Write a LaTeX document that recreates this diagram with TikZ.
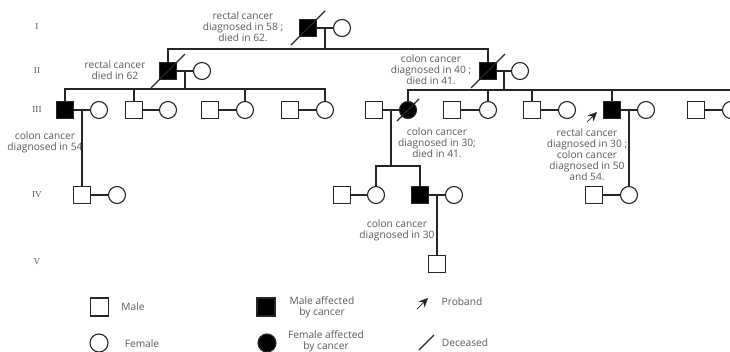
\documentclass[tikz,border=0pt]{standalone}
\usepackage{fontspec}
\setmainfont{Open Sans}
\newfontfamily\genfont{Liberation Serif}
\usetikzlibrary{arrows.meta}

% Fallecido: barra diagonal
\newcommand{\muerto}[2]{\draw (#1) ++(-#2,#2) -- ++(2*#2,-2*#2);}

\begin{document}
\begin{tikzpicture}[x=0.05cm, y=-0.05cm, line width=1.6pt, color=black!85,
    male/.style={draw, rectangle, minimum size=0.85cm, inner sep=0pt, outer sep=0pt},
    female/.style={draw, circle, minimum size=0.85cm, inner sep=0pt, outer sep=0pt},
    affected/.style={fill=black},
    descent/.style={line width=2.6pt},
    note/.style={align=center, text=black!65, font=\fontsize{14.5}{15.6}\selectfont},
    gen/.style={text=black!65, font=\genfont\fontsize{13}{14}\selectfont}]

        % Marco
        \useasboundingbox (0,0) rectangle (730,351);
        \clip (0,0) rectangle (730,351);

        % Generaciones
        \node[gen] (gI) at (37,27) {I};
        \node[gen] (gII) at (37,71) {II};
        \node[gen] (gIII) at (37,110) {III};
        \node[gen] (gIV) at (37,195) {IV};
        \node[gen] (gV) at (37,262) {V};

        % Generacion I
        \node[male, affected] (I1) at (308,28) {};
        \node[female] (I2) at (342,28) {};
        \draw (I1) -- coordinate (mI) (I2);
        \muerto{I1}{17}
        \node[note] (nI1) at (243,27) {rectal cancer\\diagnosed in 58 ;\\died in 62.};

        % Generacion II
        \node[male, affected] (II1) at (168,71) {};
        \node[female] (II2) at (202,71) {};
        \node[male, affected] (II3) at (488,71) {};
        \node[female] (II4) at (520,71) {};
        \coordinate (sI) at (325,49);
        \draw[descent] (mI) -- (sI);
        \draw (II1.north) |- (sI) -| (II3.north);
        \draw (II1) -- coordinate (mIIa) (II2);
        \draw (II3) -- coordinate (mIIb) (II4);
        \muerto{II1}{17}
        \muerto{II3}{17}
        \node[note] (nII1) at (115,70) {rectal cancer\\died in 62};
        \node[note] (nII3) at (431,70) {colon cancer\\diagnosed in 40 ;\\died in 41.};

        % Generacion III
        \node[male, affected] (III1) at (65,110) {};
        \node[female] (III2) at (99,110) {};
        \node[male] (III3) at (134,110) {};
        \node[female] (III4) at (168,110) {};
        \node[male] (III5) at (210,110) {};
        \node[female] (III6) at (245,110) {};
        \node[male] (III7) at (290,110) {};
        \node[female] (III8) at (325,110) {};
        \node[male] (III9) at (374,110) {};
        \node[female, affected] (III10) at (408,110) {};
        \node[male] (III11) at (452,110) {};
        \node[female] (III12) at (488,110) {};
        \node[male] (III13) at (532,110) {};
        \node[female] (III14) at (567,110) {};
        \node[male, affected] (III15) at (612,110) {};
        \node[female] (III16) at (646,110) {};
        \node[male] (III17) at (696,110) {};
        \node[female] (III18) at (731,110) {};

        \coordinate (sIIa) at (185,89);
        \draw[descent] (mIIa) -- (sIIa);
        \draw (III1.north) |- (sIIa) -| (III8.north);
        \draw (III3.north) -- (III3.north |- sIIa);
        \draw (III6.north) -- (III6.north |- sIIa);

        \coordinate (sIIb) at (504,90);
        \draw[descent] (mIIb) -- (sIIb);
        \draw (III10.north) |- (sIIb) -| (III18.north);
        \draw (III12.north) -- (III12.north |- sIIb);
        \draw (III13.north) -- (III13.north |- sIIb);
        \draw (III15.north) -- (III15.north |- sIIb);

        \draw (III1) -- coordinate (mIIIa) (III2);
        \draw (III3) -- (III4);
        \draw (III5) -- (III6);
        \draw (III7) -- (III8);
        \draw (III9) -- coordinate (mIIIb) (III10);
        \draw (III11) -- (III12);
        \draw (III13) -- (III14);
        \draw (III15) -- coordinate (mIIIc) (III16);
        \draw (III17) -- (III18);
        \muerto{III10}{11}

        % Probando
        \coordinate (pIII) at (587,122);
        \draw[-{Stealth[length=13pt,width=12pt,inset=4pt]}, line width=1pt] (pIII) -- ++(10,-10);

        \node[note] (nIII1) at (45,142) {colon cancer\\diagnosed in 54};
        \node[note] (nIII10) at (437,143) {colon cancer\\diagnosed in 30;\\died in 41.};
        \node[note] (nIII15) at (587,155) {rectal cancer\\diagnosed in 30 ;\\colon cancer\\diagnosed in 50\\and 54.};

        % Generacion IV
        \node[male] (IV1) at (82,195) {};
        \node[female] (IV2) at (117,195) {};
        \node[male] (IV3) at (342,195) {};
        \node[female] (IV4) at (376,195) {};
        \node[male, affected] (IV5) at (420,195) {};
        \node[female] (IV6) at (454,195) {};
        \node[male] (IV7) at (594,195) {};
        \node[female] (IV8) at (629,195) {};

        \draw (mIIIa) -- (IV1.north);
        \coordinate (sIIIb) at (391,166);
        \draw (mIIIb) -- (sIIIb);
        \draw (IV4.north) |- (sIIIb) -| (IV5.north);
        \draw (mIIIc) -- (IV8.north);

        \draw (IV1) -- (IV2);
        \draw (IV3) -- (IV4);
        \draw (IV5) -- coordinate (mIV) (IV6);
        \draw (IV7) -- (IV8);
        \node[note] (nIV5) at (397,230) {colon cancer\\diagnosed in 30};

        % Generacion V
        \node[male] (V1) at (437,264) {};
        \draw (mIV) -- (V1.north);

        % Leyenda
        \node[male, minimum size=0.9cm] (legM) at (99.5,307) {};
        \node[note] (tM) at (133,307) {Male};
        \node[female, minimum size=0.9cm] (legF) at (99,343) {};
        \node[note] (tF) at (142,344) {Female};
        \node[male, affected, minimum size=0.9cm] (legMA) at (266,307) {};
        \node[note] (tMA) at (322,307.5) {Male affected\\by cancer};
        \node[female, affected, minimum size=0.9cm] (legFA) at (267,343) {};
        \node[note] (tFA) at (326,341) {Female affected\\by cancer};
        \coordinate (legP) at (417,309);
        \draw[-{Stealth[length=13pt,width=12pt,inset=4pt]}, line width=1pt] (legP) -- ++(11,-11);
        \node[note] (tP) at (462,302) {Proband};
        \coordinate (legD) at (426.5,342.5);
        \muerto{legD}{7.5}
        \node[note] (tD) at (465,343) {Deceased};
    \end{tikzpicture}
\end{document}
